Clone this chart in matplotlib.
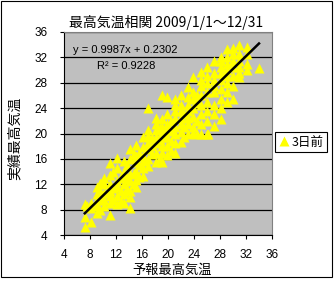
import numpy as np
import matplotlib
matplotlib.use("Agg")
import matplotlib.pyplot as plt
from matplotlib.patches import Rectangle

plt.rcParams['font.family'] = ['Liberation Sans', 'Noto Sans CJK JP', 'DejaVu Sans']
jp_font = ['Noto Sans CJK JP', 'DejaVu Sans']

# 予報最高気温 (3日前) / 実績最高気温
pred_temp = [7.2, 7.2, 7.2, 7.5, 8.1, 8.1, 8.1,
             9.0, 9.0, 9.0, 9.0, 9.0,
             9.6, 9.6, 9.6, 9.6,
             10.2, 10.2, 10.2, 10.2, 10.2,
             11.1, 11.1, 11.1, 11.1, 11.1, 11.1, 11.1,
             11.6, 11.6, 11.6,
             12.1, 12.1, 12.1, 12.1, 12.1, 12.1,
             12.7, 12.7, 12.7,
             13.2, 13.2, 13.2, 13.2, 13.2, 13.2,
             13.7, 13.7, 13.7,
             14.1, 14.1, 14.1, 14.1, 14.1, 14.1, 14.1,
             14.7, 14.7, 14.7,
             15.1, 15.1, 15.1, 15.1, 15.1, 15.1,
             15.6, 15.6, 15.6,
             16.2, 16.2, 16.2, 16.2, 16.2, 16.2,
             16.9, 16.9, 16.9, 16.9, 16.9, 16.9, 16.9,
             17.5, 17.5, 17.5,
             18.1, 18.1, 18.1, 18.1, 18.1, 18.1, 18.1,
             18.7, 18.7, 18.7,
             19.1, 19.1, 19.1, 19.1, 19.1, 19.1, 19.1, 19.1,
             19.8, 19.8, 19.8, 19.8, 19.8, 19.8, 19.8,
             20.5, 20.5, 20.5, 20.5,
             21.1, 21.1, 21.1, 21.1, 21.1, 21.1, 21.1, 21.1,
             22.0, 22.0, 22.0, 22.0, 22.0, 22.0, 22.0,
             22.5, 22.5, 22.5,
             23.0, 23.0, 23.0, 23.0, 23.0, 23.0, 23.0,
             23.8, 23.8, 23.8, 23.8, 23.8, 23.8, 23.8,
             24.4, 24.4, 24.4, 24.4,
             25.0, 25.0, 25.0, 25.0, 25.0, 25.0, 25.0, 25.0,
             26.0, 26.0, 26.0, 26.0, 26.0, 26.0, 26.0, 26.0, 26.2,
             27.0, 27.0, 27.0, 27.0, 27.0, 27.0, 27.0, 27.0,
             28.1, 28.1, 28.1, 28.1, 28.1, 28.1, 28.1, 28.1, 28.1,
             29.1, 29.1, 29.1, 29.1, 29.1, 29.1, 29.1, 29.1,
             30.0, 30.0, 30.0, 30.0, 30.0, 30.0, 30.0,
             30.9, 30.9, 30.9, 30.9, 30.9, 30.9,
             32.1, 32.1, 32.1, 32.1,
             34.0]
obs_temp = [5.3, 6.8, 8.9, 8.5, 6.0, 8.2, 9.0,
            7.5, 8.6, 9.5, 10.5, 11.6,
            8.0, 9.8, 11.0, 12.2,
            8.5, 9.5, 10.6, 12.0, 13.0,
            7.2, 9.1, 10.1, 11.0, 12.1, 13.5, 15.3,
            9.5, 11.4, 14.0,
            8.9, 10.2, 11.6, 12.5, 14.5, 16.2,
            9.4, 11.0, 13.2,
            9.0, 10.5, 12.0, 13.0, 14.0, 15.6,
            11.2, 12.8, 15.0,
            8.3, 10.0, 11.0, 12.5, 13.6, 16.0, 17.5,
            12.0, 13.8, 16.8,
            11.5, 12.6, 14.0, 15.5, 16.5, 18.2,
            13.2, 15.0, 17.0,
            13.3, 14.6, 15.6, 16.5, 17.8, 19.4,
            14.8, 16.0, 17.5, 18.5, 19.6, 20.6, 24.0,
            16.8, 18.0, 19.3,
            15.5, 17.0, 18.5, 19.5, 20.5, 21.5, 22.5,
            16.2, 19.0, 20.8,
            15.5, 17.0, 18.0, 19.5, 20.2, 21.0, 22.3, 26.1,
            16.6, 18.0, 19.5, 20.5, 21.5, 23.0, 25.8,
            17.2, 18.8, 20.4, 22.0,
            17.0, 18.5, 20.0, 21.0, 22.5, 23.5, 24.5, 25.5,
            18.7, 20.2, 21.5, 22.5, 23.5, 24.5, 26.0,
            19.4, 21.0, 23.0,
            20.0, 21.5, 22.5, 23.5, 24.5, 25.8, 27.3,
            20.1, 21.0, 22.6, 24.0, 25.5, 26.6, 28.9,
            20.0, 22.0, 24.8, 26.0,
            20.0, 21.5, 23.0, 24.5, 26.0, 27.5, 28.5, 29.7,
            20.0, 22.0, 23.5, 25.0, 26.5, 28.0, 29.0, 30.5, 19.9,
            21.2, 23.0, 24.5, 26.5, 27.5, 28.5, 29.5, 31.5,
            22.3, 24.0, 25.5, 27.0, 28.5, 29.5, 30.5, 31.5, 32.0,
            25.0, 26.5, 28.0, 29.0, 30.0, 31.0, 32.0, 33.3,
            25.4, 27.5, 29.0, 30.5, 31.5, 32.5, 33.5,
            28.9, 29.5, 30.5, 31.5, 32.5, 34.0,
            30.0, 31.0, 32.5, 33.7,
            30.3]

slope = 0.9987
intercept = 0.2302
r2 = 0.9228

ticks = [4, 8, 12, 16, 20, 24, 28, 32, 36]

fig = plt.figure(figsize=(3.34, 2.81), dpi=100)
ax = fig.add_axes([64 / 334, 46 / 281, 208 / 334, 203 / 281])
ax.set_facecolor('#bfbfbf')

ax.plot(pred_temp, obs_temp, linestyle='none', marker='^', ms=6.5,
        mfc='#ffff00', mec='none', label='3日前', zorder=3)

xs = np.array([min(pred_temp), max(pred_temp)])
ax.plot(xs, slope * xs + intercept, color='black', lw=1.8, zorder=4)

ax.set_xlim(4, 36)
ax.set_ylim(4, 36)
ax.set_xticks(ticks)
ax.set_yticks(ticks)
ax.tick_params(axis='both', labelsize=8.5, length=3, direction='out', color='black')
ax.tick_params(axis='x', pad=7)
ax.tick_params(axis='y', pad=9)
ax.yaxis.grid(True, color='black', lw=0.9)
ax.set_axisbelow(True)
for s in ['top', 'right']:
    ax.spines[s].set_color('#808080')
for s in ['left', 'bottom']:
    ax.spines[s].set_color('black')

ax.text(5.4, 33.2, f'y = {slope}x + {intercept}', fontsize=8, va='center', ha='left')
ax.text(9.1, 30.6, f'R² = {r2}', fontsize=8, va='center', ha='left')

fig.text(166 / 334, 1 - 22 / 281, '最高気温相関 2009/1/1～12/31', fontsize=10,
         ha='center', va='center', family=jp_font)
fig.text(172 / 334, 1 - 270 / 281, '予報最高気温', fontsize=9.5,
         ha='center', va='center', family=jp_font)
fig.text(15 / 334, 1 - 138 / 281, '実績最高気温', fontsize=10, rotation=90,
         ha='center', va='center', family=jp_font)

leg = ax.legend(loc='center left', bbox_to_anchor=(275 / 334, 1 - 142 / 281),
                bbox_transform=fig.transFigure, frameon=True, fancybox=False,
                edgecolor='black', framealpha=1, handlelength=0.8,
                handletextpad=0.2, borderpad=0.3, borderaxespad=0,
                prop={'family': jp_font, 'size': 9})
leg.get_frame().set_linewidth(0.8)

fig.patches.append(Rectangle((1 / 334, 4 / 281), 331 / 334, 276 / 281,
                             transform=fig.transFigure, fill=False,
                             edgecolor='black', lw=0.8))

fig.savefig('out.png', dpi=100)
